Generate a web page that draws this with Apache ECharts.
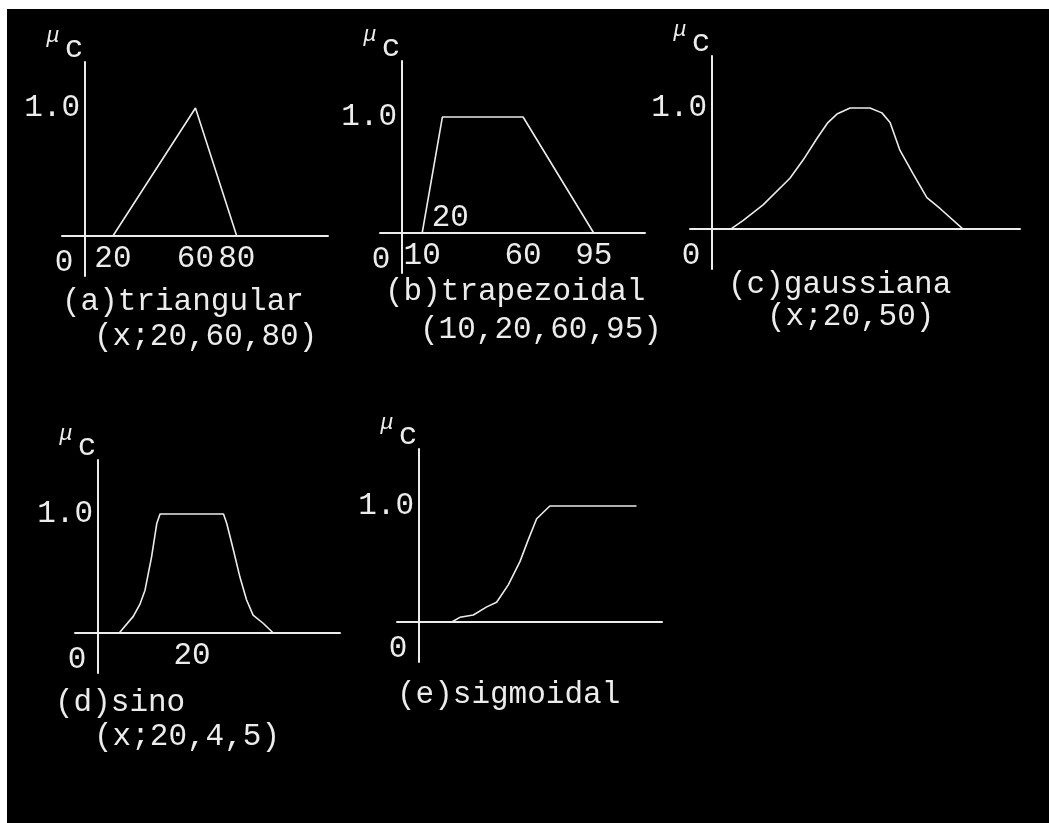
<!DOCTYPE html>
<html>
<head>
<meta charset="utf-8">
<title>Funções de pertinência</title>
<script src="https://cdn.jsdelivr.net/npm/echarts@6/dist/echarts.min.js"></script>
<style>
  html, body { margin: 0; padding: 0; background: #ffffff; }
  #board { position: absolute; left: 7px; top: 9px; width: 1042px; height: 814px; background: #000000; }
  #chart { position: absolute; left: 0; top: 0; width: 1049px; height: 823px; }
</style>
</head>
<body>
<div id="board"></div>
<div id="chart"></div>
<script>
// ---- membership curves: x values and membership degrees ----
const triangularX = [20, 60, 80];
const triangularMu = [0, 1, 0];

const trapezoidalX = [10, 20, 60, 95];
const trapezoidalMu = [0, 1, 1, 0];

const gaussianX = [6.4, 10.6, 17.5, 26.7, 31.2, 36.0, 39.7, 42.8, 47.3, 54.1, 58.2, 61.0, 64.4, 68.8, 73.6, 78.1, 86.0];
const gaussianMu = [0, 0.07, 0.20, 0.42, 0.57, 0.75, 0.88, 0.95, 1.0, 1.0, 0.96, 0.88, 0.65, 0.46, 0.26, 0.17, 0];

const sinoX = [4.5, 7.5, 8.9, 10.0, 11.4, 12.5, 13.2, 26.7, 27.4, 28.8, 30.2, 31.6, 33.0, 35.2, 37.3];
const sinoMu = [0, 0.14, 0.24, 0.36, 0.64, 0.92, 1.0, 1.0, 0.92, 0.70, 0.47, 0.28, 0.15, 0.08, 0];

const sigmoidX = [14.9, 18.6, 24.7, 30.8, 35.3, 40.6, 45.9, 49.7, 53.5, 59.5, 98.9];
const sigmoidMu = [0, 0.04, 0.06, 0.13, 0.17, 0.32, 0.52, 0.71, 0.89, 1.0, 1.0];

// ---- tick labels ----
const triangularTicks = [20, 60, 80];
const trapezoidalTicks = [10, 60, 95];
const trapezoidalUpperTick = 20;
const sinoTicks = [20];
const muTicks = [1];

// ---- captions ----
const captions = [
  ['(a)triangular', '(x;20,60,80)'],
  ['(b)trapezoidal', '(10,20,60,95)'],
  ['(c)gaussiana', '(x;20,50)'],
  ['(d)sino', '(x;20,4,5)'],
  ['(e)sigmoidal']
];

// ---- layout of the five small plots ----
// yGap: distance (px) from the grid's left edge to the vertical axis line
const FONT = '"Liberation Mono", "DejaVu Sans Mono", monospace';
const INK = '#ececec';
const FS = 31;
const panels = [
  { grid: { left: 62,  top: 62,  width: 266, height: 214 }, yGap: 23, x: [-4.65, 124.2],  y: [-0.3125, 1.359], xs: triangularX,  ys: triangularMu,  ticks: triangularTicks,
    cap: [[62, 302], [94, 337]] },
  { grid: { left: 380, top: 61,  width: 265, height: 212 }, yGap: 22, x: [-10.9, 120.4],  y: [-0.345, 1.483],  xs: trapezoidalX, ys: trapezoidalMu, ticks: trapezoidalTicks,
    cap: [[385, 292], [420, 330]] },
  { grid: { left: 690, top: 56,  width: 330, height: 213 }, yGap: 22, x: [-7.53, 105.5],  y: [-0.33, 1.43],    xs: gaussianX,    ys: gaussianMu,    ticks: [],
    cap: [[728, 285], [767, 317]] },
  { grid: { left: 75,  top: 460, width: 265, height: 213 }, yGap: 23, x: [-4.9, 51.5],    y: [-0.336, 1.454],  xs: sinoX,        ys: sinoMu,        ticks: sinoTicks,
    cap: [[55, 703], [94, 737]] },
  { grid: { left: 397, top: 449, width: 265, height: 213 }, yGap: 22, x: [-10, 110.5],    y: [-0.345, 1.491],  xs: sigmoidX,     ys: sigmoidMu,     ticks: [],
    cap: [[397, 695]] }
];

// distance (px) from the grid's bottom edge to the μ = 0 line,
// so that x tick labels sit just under the horizontal axis line
const zeroFromBottom = p => p.grid.height * (0 - p.y[0]) / (p.y[1] - p.y[0]);

const lineStyle = { color: INK, width: 2 };
const labelStyle = { color: INK, fontFamily: FONT, fontSize: FS };

const option = {
  backgroundColor: 'transparent',
  animation: false,
  grid: panels.map(p => Object.assign({ containLabel: false }, p.grid)),
  xAxis: panels.map((p, i) => ({
    type: 'value', gridIndex: i, min: p.x[0], max: p.x[1],
    axisLine: { onZero: true, lineStyle: lineStyle },
    axisTick: { show: false }, splitLine: { show: false },
    axisLabel: Object.assign({ show: p.ticks.length > 0, customValues: p.ticks,
      margin: -zeroFromBottom(p) + 7, hideOverlap: false,
      formatter: v => String(v) }, labelStyle)
  })),
  yAxis: panels.map((p, i) => ({
    type: 'value', gridIndex: i, min: p.y[0], max: p.y[1],
    position: 'left', offset: -p.yGap,
    axisLine: { onZero: false, lineStyle: lineStyle },
    axisTick: { show: false }, splitLine: { show: false },
    axisLabel: Object.assign({ customValues: muTicks, margin: 5,
      hideOverlap: false, formatter: v => v.toFixed(1) }, labelStyle)
  })),
  series: panels.map((p, i) => ({
    type: 'line', xAxisIndex: i, yAxisIndex: i,
    data: p.xs.map((x, k) => [x, p.ys[k]]),
    showSymbol: false, symbol: 'none', smooth: false,
    lineStyle: { color: INK, width: 1.6 }
  }))
};

const chart = echarts.init(document.getElementById('chart'), null, { renderer: 'canvas' });
chart.setOption(option);

// texts tied to the axes: origin "0", the μc axis name, and captions
const texts = [];
const txt = (x, y, text, font, align) => texts.push({
  type: 'text', z: 10,
  style: { x: x, y: y, text: text, fill: INK, font: font, align: align, verticalAlign: 'middle' }
});

panels.forEach((p, i) => {
  const axisX = p.grid.left + p.yGap;
  const zeroY = chart.convertToPixel({ gridIndex: i }, [0, 0])[1];
  const topY = p.grid.top;
  txt(axisX - 21, zeroY + 27, '0', FS + 'px ' + FONT, 'center');
  txt(axisX - 32, topY - 26, 'μ', 'italic 22px ' + FONT, 'center');
  txt(axisX - 11, topY - 13, 'c', FS + 'px ' + FONT, 'center');
  p.cap.forEach((c, k) => txt(c[0], c[1], captions[i][k], FS + 'px ' + FONT, 'left'));
});

const upper = chart.convertToPixel({ gridIndex: 1 }, [trapezoidalUpperTick, 0]);
txt(upper[0] + 8, upper[1] - 15, String(trapezoidalUpperTick), FS + 'px ' + FONT, 'center');

chart.setOption({ graphic: { elements: texts } });
</script>
</body>
</html>
